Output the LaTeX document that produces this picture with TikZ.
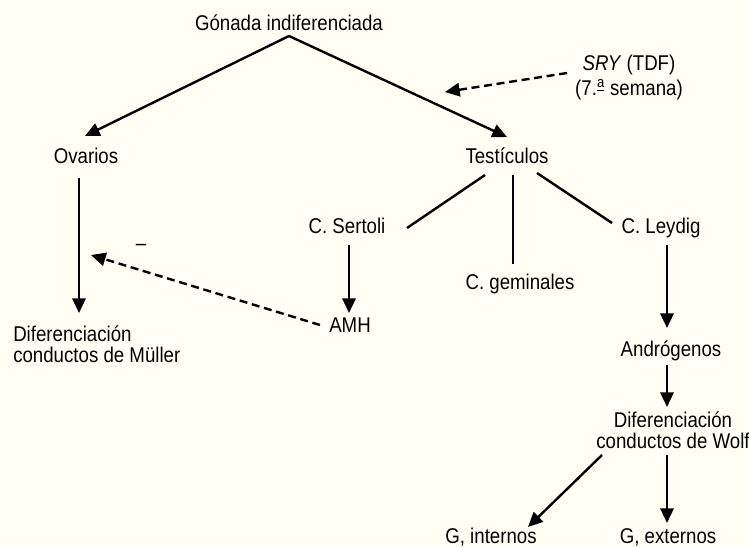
\documentclass[tikz,border=0pt]{standalone}
\usepackage{fontspec}
\setmainfont{Liberation Sans}[FakeStretch=0.875]
\usetikzlibrary{arrows.meta}
\definecolor{bgc}{HTML}{FFFFF3}
\begin{document}
\begin{tikzpicture}[x=0.75pt,y=-0.75pt,
  lbl/.style={inner sep=0pt,anchor=base,font=\fontsize{16}{15.75}\selectfont,
    text height=11.5pt,text depth=3.5pt},
  conn/.style={line width=1.8pt},
  arr/.style={conn,-{Triangle[length=11pt,width=10pt]}},
  darr/.style={arr,dash pattern=on 6pt off 3.5pt}]
\fill[bgc] (0,0) rectangle (749,547);
\useasboundingbox (0,0) rectangle (749,547);
\node[lbl] (gon) at (289,30) {Gónada indiferenciada};
\node[lbl] (sryA) at (629,70) {\textit{SRY} (TDF)};
\node[lbl] (sryB) at (629,95) {(7.\raisebox{-1pt}{\textsuperscript{\underline{a}}} semana)};
\node[lbl] (ova) at (86,163) {Ovarios};
\node[lbl] (tes) at (507,163) {Testículos};
\node[lbl] (ser) at (347,233) {C. Sertoli};
\node[lbl] (ley) at (661,233) {C. Leydig};
\node[lbl] (gem) at (520,289) {C. geminales};
\node[lbl] (amh) at (350,332) {AMH};
\node[lbl,anchor=base west] (mulA) at (13,341) {Diferenciación};
\node[lbl,anchor=base west] (mulB) at (13,362) {conductos de Müller};
\node[lbl] (and) at (671,356) {Andrógenos};
\node[lbl] (wolA) at (673,427) {Diferenciación};
\node[lbl] (wolB) at (673,448) {conductos de Wolf};
\node[lbl] (gin) at (491,543) {G, internos};
\node[lbl] (gex) at (668,543) {G, externos};
\node[lbl] (neg) at (141,250) {--};
\coordinate (top) at (289,36);
\coordinate (ovaT) at (85,136);
\coordinate (tesT) at (507,137);
\coordinate (sryS) at (567,73);
\coordinate (sryE) at (445,92);
\draw[arr] (top) -- (ovaT);
\draw[arr] (top) -- (tesT);
\draw[darr] (sryS) -- (sryE);
\draw[arr] (79,178) -- (79,313);
\draw[conn] (485,175) -- (407,228);
\draw[conn] (513,175) -- (513,264);
\draw[conn] (537,173) -- (612,223);
\draw[arr] (349,245) -- (349,313);
\coordinate (amhS) at (320,325);
\coordinate (ovaL) at (91,255);
\draw[darr] (amhS) -- (ovaL);
\draw[arr] (667,245) -- (667,328);
\draw[arr] (667,365) -- (667,407);
\draw[arr] (602,455) -- (528,527);
\draw[arr] (667,455) -- (667,523);
\end{tikzpicture}
\end{document}
